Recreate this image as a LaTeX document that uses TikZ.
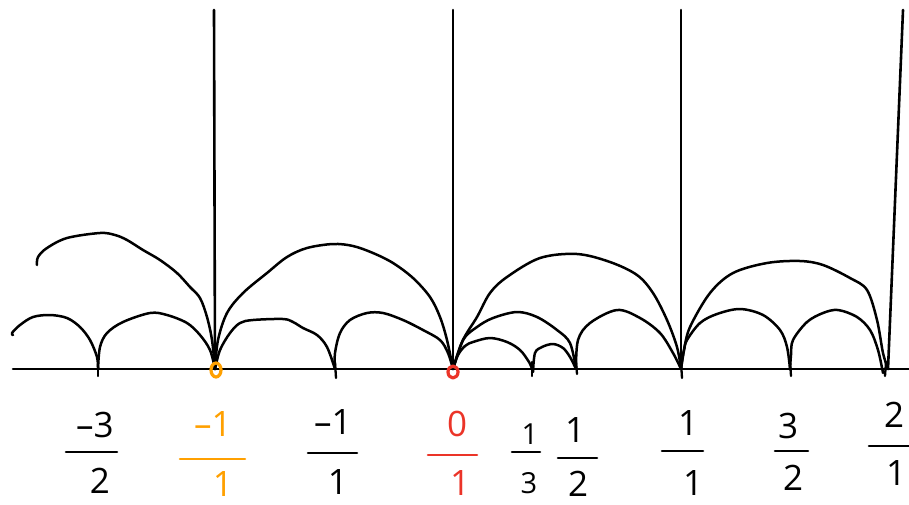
\documentclass[tikz,border=0pt]{standalone}
\usepackage{fontspec}
\setmainfont{Open Sans}
\definecolor{myorange}{RGB}{255,160,0}
\definecolor{myred}{RGB}{235,52,40}
\begin{document}
\begin{tikzpicture}[x=1pt,y=-1pt, line cap=round, line join=round,
  ln/.style={line width=2.6pt},
  arcline/.style={line width=2.5pt},
  tickline/.style={line width=2.3pt},
  lab/.style={font=\fontsize{35}{35}\selectfont, inner sep=0pt},
  slab/.style={font=\fontsize{29}{29}\selectfont, inner sep=0pt},
  fbar/.style={line width=2.6pt},
  ptmark/.style={line width=3.2pt}]
\useasboundingbox (0,0) rectangle (909,504);
% points on the line
\coordinate (L) at (13,369);
\coordinate (R) at (909,369);
\coordinate (m32) at (98,369);
\coordinate (m1) at (215,369);
\coordinate (mh) at (335,369);
\coordinate (z) at (453,369);
\coordinate (t13) at (532,369);
\coordinate (h12) at (576,369);
\coordinate (o1) at (681,369);
\coordinate (t32) at (790,369);
\coordinate (two) at (888,369);
% tops of vertical lines
\coordinate (m1t) at (214,10);
\coordinate (zt) at (453,10);
\coordinate (o1t) at (681,10);
\coordinate (twot) at (903,10);

% axis and verticals
\draw[ln] (L) -- (R);
\draw[ln] (m1) -- (m1t);
\draw[ln] (z) -- (zt);
\draw[ln] (o1) -- (o1t);
\draw[ln] (two) -- (twot);

% small ticks
\draw[tickline] (98,360) -- (98,376);
\draw[tickline] (335,362) -- (336,378);
\draw[tickline] (532,362) -- (532,376);
\draw[tickline] (576,362) -- (577,374);
\draw[tickline] (681,362) -- (682,378);
\draw[tickline] (790,362) -- (791,376);
\draw[tickline] (886,362) -- (885,376);

% arcs
\draw[arcline] plot[smooth,tension=0.55] coordinates {(37,265) (38,257) (47,248) (67,238) (100,233) (115,235) (127,240) (143,250) (160,260) (177,273) (190,287) (200,298) (207,317) (212,340) (m1)};
\draw[arcline] plot[smooth,tension=0.55] coordinates {(13,335) (12,333) (20,325) (33,317) (50,315) (67,318) (80,327) (90,340) (97,357) (m32)};
\draw[arcline] plot[smooth,tension=0.55] coordinates {(m32) (100,347) (107,333) (123,322) (150,313) (167,315) (187,323) (200,335) (210,350) (m1)};
\draw[arcline] plot[smooth,tension=0.55] coordinates {(m1) (218,340) (227,313) (243,293) (267,273) (287,257) (307,248) (333,244) (353,246) (373,253) (393,263) (413,278) (430,297) (440,317) (447,340) (z)};
\draw[arcline] plot[smooth,tension=0.55] coordinates {(m1) (220,350) (230,333) (240,323) (253,320) (283,319) (293,322) (303,328) (317,335) (327,347) (mh)};
\draw[arcline] plot[smooth,tension=0.55] coordinates {(mh) (335,353) (340,333) (350,320) (367,313) (383,313) (403,320) (423,330) (440,340) (448,353) (z)};
\draw[arcline] plot[smooth,tension=0.55] coordinates {(z) (463,340) (477,317) (490,293) (507,277) (540,258) (577,254) (610,262) (637,275) (653,293) (667,320) (677,347) (o1)};
\draw[arcline] plot[smooth,tension=0.55] coordinates {(z) (463,340) (477,327) (493,318) (517,312) (537,317) (557,330) (570,343) (h12)};
\draw[arcline] plot[smooth,tension=0.55] coordinates {(z) (458,355) (465,346) (473,342) (490,338) (507,342) (520,350) (529,362) (t13)};
\draw[arcline] plot[smooth,tension=0.55] coordinates {(533,372) (535,353) (542,347) (553,344) (563,348) (570,357) (h12)};
\draw[arcline] plot[smooth,tension=0.55] coordinates {(h12) (578,340) (590,323) (617,310) (640,318) (660,333) (673,353) (o1)};
\draw[arcline] plot[smooth,tension=0.55] coordinates {(o1) (684,350) (690,327) (710,293) (733,273) (767,263) (800,261) (823,265) (850,278) (867,290) (877,320) (883,353) (two)};
\draw[arcline] plot[smooth,tension=0.55] coordinates {(o1) (684,350) (687,340) (700,323) (717,314) (740,309) (763,315) (780,330) (787,347) (t32)};
\draw[arcline] plot[smooth,tension=0.55] coordinates {(t32) (791,355) (793,340) (807,322) (823,313) (838,310) (857,317) (870,330) (878,350) (883,373)};

% highlighted points
\draw[ptmark, myorange] (216,370) ellipse [x radius=5, y radius=7];
\draw[ptmark, myred] (453,372) ellipse [x radius=5, y radius=6];

% labels
\node[lab] (n1) at (95,425) {–3};
\draw[fbar] (66,452) -- (117,452);
\node[lab] (d1) at (100,481) {2};

\node[lab, text=myorange] (n2) at (213,424) {–1};
\draw[fbar, myorange] (180,459) -- (245,459);
\node[lab, text=myorange] (d2) at (223,484) {1};

\node[lab] (n3) at (333,422) {–1};
\draw[fbar] (308,453) -- (357,453);
\node[lab] (d3) at (338,482) {1};

\node[lab, text=myred] (n4) at (457,424) {0};
\draw[fbar, myred] (428,455) -- (477,455);
\node[lab, text=myred] (d4) at (460,483) {1};

\node[slab] (n5) at (530,434) {1};
\draw[fbar] (512,452) -- (540,452);
\node[slab] (d5) at (529,483) {3};

\node[lab] (n6) at (575,430) {1};
\draw[fbar] (558,458) -- (597,458);
\node[lab] (d6) at (578,484) {2};

\node[lab] (n7) at (688,423) {1};
\draw[fbar] (662,451) -- (703,451);
\node[lab] (d7) at (693,483) {1};

\node[lab] (n8) at (788,426) {3};
\draw[fbar] (775,451) -- (808,451);
\node[lab] (d8) at (793,478) {2};

\node[lab] (n9) at (894,415) {2};
\draw[fbar] (869,446) -- (909,446);
\node[lab] (d9) at (896,473) {1};
\end{tikzpicture}
\end{document}
